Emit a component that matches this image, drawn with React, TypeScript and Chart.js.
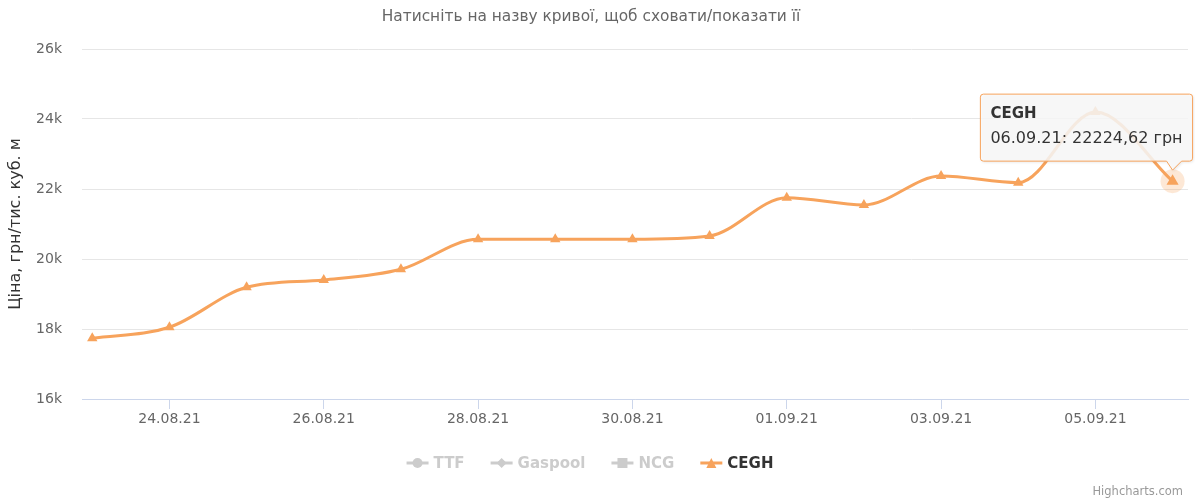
import React, { useEffect, useRef } from 'react';
import { Chart, registerables } from 'chart.js';

Chart.register(...registerables);

const dates = [
  '23.08.21', '24.08.21', '25.08.21', '26.08.21', '27.08.21', '28.08.21', '29.08.21', '30.08.21',
  '31.08.21', '01.09.21', '02.09.21', '03.09.21', '04.09.21', '05.09.21', '06.09.21',
];
const ceghValues = [
  17734, 18049, 19191, 19400, 19705, 20563, 20563, 20563,
  20657, 21752, 21543, 22371, 22180, 24200, 22224.62,
];
const xTickIndices = [1, 3, 5, 7, 9, 11, 13];
const yTickValues = [16000, 18000, 20000, 22000, 24000, 26000];
const legendNames = ['TTF', 'Gaspool', 'NCG', 'CEGH'];
const legendSymbols = ['circle', 'diamond', 'square', 'triangle'];
const legendHidden = [true, true, true, false];
const titleText = 'Натисніть на назву кривої, щоб сховати/показати її';
const yTitleText = 'Ціна, грн/тис. куб. м';
const unitText = 'грн';
const creditsText = 'Highcharts.com';
const tooltipIndex = 14;

const FONT = '"DejaVu Sans", sans-serif';
const ORANGE = '#f7a35c';

function drawSymbol(ctx: CanvasRenderingContext2D, type: string, x: number, y: number, r: number, color: string) {
  ctx.save();
  ctx.fillStyle = color;
  ctx.beginPath();
  if (type === 'circle') {
    ctx.arc(x, y, r, 0, Math.PI * 2);
  } else if (type === 'diamond') {
    ctx.moveTo(x, y - r);
    ctx.lineTo(x + r, y);
    ctx.lineTo(x, y + r);
    ctx.lineTo(x - r, y);
    ctx.closePath();
  } else if (type === 'square') {
    ctx.rect(x - r, y - r, 2 * r, 2 * r);
  } else {
    ctx.moveTo(x, y - r);
    ctx.lineTo(x + r, y + r);
    ctx.lineTo(x - r, y + r);
    ctx.closePath();
  }
  ctx.fill();
  ctx.restore();
}

const decorPlugin = {
  id: 'decor',
  beforeDatasetsDraw(chart: any) {
    const ctx = chart.ctx as CanvasRenderingContext2D;
    const meta = chart.getDatasetMeta(0);
    const pt = meta.data[tooltipIndex];
    if (!pt) return;
    ctx.save();
    ctx.fillStyle = 'rgba(247,163,92,0.25)';
    ctx.beginPath();
    ctx.arc(pt.x, pt.y, 12, 0, Math.PI * 2);
    ctx.fill();
    ctx.restore();
  },
  afterDraw(chart: any) {
    const ctx = chart.ctx as CanvasRenderingContext2D;
    const W = chart.width;
    ctx.save();
    // Title
    ctx.fillStyle = '#666666';
    ctx.font = `15.4px ${FONT}`;
    ctx.textAlign = 'center';
    ctx.textBaseline = 'middle';
    ctx.fillText(titleText, 591, 17);

    // Y axis title
    ctx.save();
    ctx.translate(16, (chart.chartArea.top + chart.chartArea.bottom) / 2);
    ctx.rotate(-Math.PI / 2);
    ctx.fillStyle = '#333333';
    ctx.font = `16px ${FONT}`;
    ctx.textAlign = 'center';
    ctx.textBaseline = 'middle';
    ctx.fillText(yTitleText, 0, 0);
    ctx.restore();

    // Legend
    ctx.font = `bold 15px ${FONT}`;
    const symW = 22;
    const gap = 5;
    const itemGap = 26;
    const widths = legendNames.map((n) => symW + gap + ctx.measureText(n).width);
    const total = widths.reduce((a, b) => a + b, 0) + itemGap * (legendNames.length - 1);
    let lx = 590 - total / 2;
    const ly = 463;
    legendNames.forEach((name, i) => {
      const col = legendHidden[i] ? '#cccccc' : ORANGE;
      ctx.strokeStyle = col;
      ctx.lineWidth = 3;
      ctx.beginPath();
      ctx.moveTo(lx, ly);
      ctx.lineTo(lx + symW, ly);
      ctx.stroke();
      drawSymbol(ctx, legendSymbols[i], lx + symW / 2, ly, 5, col);
      ctx.fillStyle = legendHidden[i] ? '#cccccc' : '#333333';
      ctx.textAlign = 'left';
      ctx.textBaseline = 'middle';
      ctx.fillText(name, lx + symW + gap, ly + 1);
      lx += widths[i] + itemGap;
    });

    // Credits
    ctx.font = `11.5px ${FONT}`;
    ctx.fillStyle = '#999999';
    ctx.textAlign = 'right';
    ctx.textBaseline = 'middle';
    ctx.fillText(creditsText, W - 12, 492);

    // Tooltip
    const meta = chart.getDatasetMeta(0);
    const pt = meta.data[tooltipIndex];
    if (pt) {
      const px = pt.x;
      const py = pt.y;
      const header = chart.data.datasets[0].label;
      const val = ceghValues[tooltipIndex].toFixed(2).replace('.', ',');
      const body = `${dates[tooltipIndex]}: ${val} ${unitText}`;
      ctx.font = `16px ${FONT}`;
      const bw = ctx.measureText(body).width;
      const right = px + 20;
      const left = right - bw - 20;
      const top = py - 87;
      const bottom = py - 20;
      const r = 3;
      ctx.beginPath();
      ctx.moveTo(left + r, top);
      ctx.lineTo(right - r, top);
      ctx.quadraticCurveTo(right, top, right, top + r);
      ctx.lineTo(right, bottom - r);
      ctx.quadraticCurveTo(right, bottom, right - r, bottom);
      ctx.lineTo(px + 9, bottom);
      ctx.lineTo(px, py - 11);
      ctx.lineTo(px - 6, bottom);
      ctx.lineTo(left + r, bottom);
      ctx.quadraticCurveTo(left, bottom, left, bottom - r);
      ctx.lineTo(left, top + r);
      ctx.quadraticCurveTo(left, top, left + r, top);
      ctx.closePath();
      ctx.save();
      ctx.shadowColor = 'rgba(0,0,0,0.12)';
      ctx.shadowOffsetX = 1;
      ctx.shadowOffsetY = 1;
      ctx.shadowBlur = 3;
      ctx.fillStyle = 'rgba(249,249,249,0.85)';
      ctx.fill();
      ctx.restore();
      ctx.strokeStyle = ORANGE;
      ctx.lineWidth = 1;
      ctx.stroke();
      ctx.fillStyle = '#333333';
      ctx.textAlign = 'left';
      ctx.textBaseline = 'middle';
      ctx.font = `bold 15px ${FONT}`;
      ctx.fillText(header, left + 10, top + 20);
      ctx.font = `16px ${FONT}`;
      ctx.fillText(body, left + 10, top + 45);
    }
    ctx.restore();
  },
};

export default function App() {
  const canvasRef = useRef<HTMLCanvasElement | null>(null);

  useEffect(() => {
    document.body.style.margin = '0';
    const canvas = canvasRef.current;
    if (!canvas) return;
    const pointRadii = ceghValues.map((_, i) => (i === tooltipIndex ? 7 : 6));
    const chart = new Chart(canvas, {
      type: 'line',
      data: {
        datasets: [
          {
            label: 'CEGH',
            data: ceghValues.map((v, i) => ({ x: i, y: v })),
            borderColor: ORANGE,
            backgroundColor: ORANGE,
            borderWidth: 3,
            pointStyle: 'triangle',
            pointRadius: pointRadii,
            pointBorderWidth: 0,
            pointBackgroundColor: ORANGE,
            cubicInterpolationMode: 'monotone',
            fill: false,
          },
        ],
      },
      options: {
        responsive: false,
        animation: false,
        devicePixelRatio: 1,
        layout: { padding: { left: 0, right: 7, top: 49, bottom: 60 } },
        plugins: {
          legend: { display: false },
          title: { display: false },
          tooltip: { enabled: false },
        },
        events: [],
        scales: {
          x: {
            type: 'linear',
            min: -0.133,
            max: 14.2,
            afterBuildTicks: (scale: any) => {
              scale.ticks = xTickIndices.map((v) => ({ value: v }));
            },
            afterFit: (scale: any) => {
              scale.height = 40;
            },
            ticks: {
              autoSkip: false,
              maxRotation: 0,
              padding: 2,
              color: '#666666',
              font: { family: FONT, size: 14 },
              callback: (v: any) => dates[v] ?? '',
            },
            grid: {
              drawOnChartArea: false,
              drawTicks: true,
              tickLength: 10,
              color: '#ccd6eb',
            },
            border: { color: '#ccd6eb', width: 1 },
          },
          y: {
            min: 16000,
            max: 26000,
            afterBuildTicks: (scale: any) => {
              scale.ticks = yTickValues.map((v) => ({ value: v }));
            },
            afterFit: (scale: any) => {
              scale.width = 82;
            },
            ticks: {
              padding: 20,
              color: '#666666',
              font: { family: FONT, size: 14 },
              callback: (v: any) => `${Number(v) / 1000}k`,
            },
            grid: { color: '#e6e6e6', drawTicks: false, lineWidth: 1 },
            border: { display: false },
          },
        },
      },
      plugins: [decorPlugin],
    });
    return () => chart.destroy();
  }, []);

  return (
    <div style={{ width: 1195, height: 499, position: 'relative' }}>
      <canvas ref={canvasRef} width={1195} height={499} style={{ width: 1195, height: 499, display: 'block' }} />
    </div>
  );
}
